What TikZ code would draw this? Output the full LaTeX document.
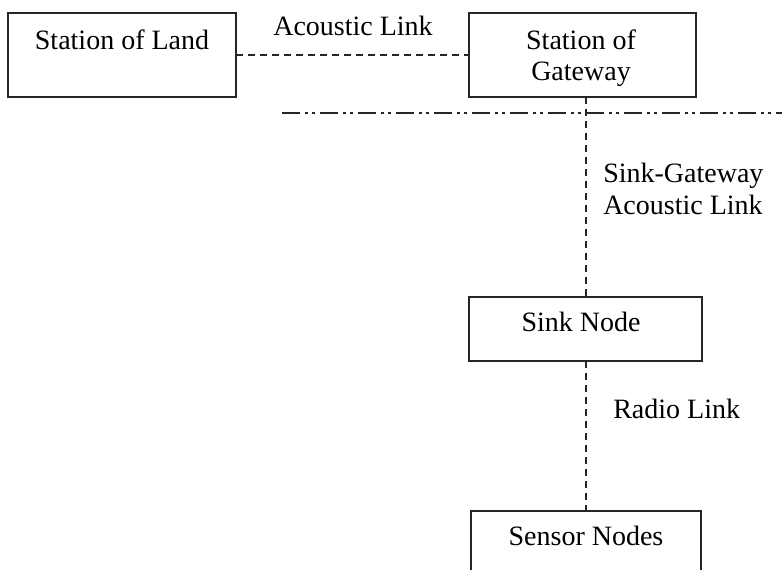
\documentclass[tikz,border=0pt]{standalone}
\usepackage{fontspec}
\setmainfont{Liberation Serif}
\begin{document}
\begin{tikzpicture}[x=0.75pt,y=-0.75pt,
  box/.style={draw=black!85,line width=1.3pt,rectangle,inner sep=0pt,outer sep=0pt,anchor=north west},
  txt/.style={font=\fontsize{21}{24}\selectfont,inner sep=0pt,anchor=base},
  ltxt/.style={font=\fontsize{21}{24}\selectfont,inner sep=0pt,anchor=base west},
  link/.style={draw=black!85,line width=1pt,dash pattern=on 5.25pt off 3.75pt},
  border/.style={draw=black!85,line width=1.3pt,dash pattern=on 13.5pt off 3.75pt on 2.25pt off 3pt on 2.25pt off 3.75pt}]
\clip (0,0) rectangle (782,570);
\useasboundingbox (0,0) rectangle (782,570);
% boxes
\node[box,minimum width=228*0.75pt,minimum height=84*0.75pt] (land) at (8,13) {};
\node[box,minimum width=227*0.75pt,minimum height=84*0.75pt] (gate) at (469,13) {};
\node[box,minimum width=233*0.75pt,minimum height=64*0.75pt] (sink) at (469,297) {};
\node[box,minimum width=230*0.75pt,minimum height=100*0.75pt] (sensor) at (471,511) {};
% texts
\node[txt] (tland) at (122,50) {Station of Land};
\node[txt] (tgate1) at (581,50) {Station of};
\node[txt] (tgate2) at (581,81) {Gateway};
\node[txt] (tsink) at (581,332) {Sink Node};
\node[txt] (tsensor) at (586,545) {Sensor Nodes};
\node[txt] (tac) at (353,36) {Acoustic Link};
\node[ltxt] (tsg1) at (603,183) {Sink-Gateway};
\node[ltxt] (tsg2) at (603,215) {Acoustic Link};
\node[ltxt] (tradio) at (613,418) {Radio Link};
% connectors
\coordinate (gb) at (586,97);
\coordinate (st) at (586,297);
\coordinate (sb) at (586,361);
\coordinate (nt) at (586,511);
\coordinate (bl) at (282,113);
\coordinate (br) at (790,113);
\path[border] (bl) -- (br);
\path[link] (land.east |- 0,55) -- (gate.west |- 0,55);
\path[link] (gb) -- (st);
\path[link] (sb) -- (nt);
\end{tikzpicture}
\end{document}
